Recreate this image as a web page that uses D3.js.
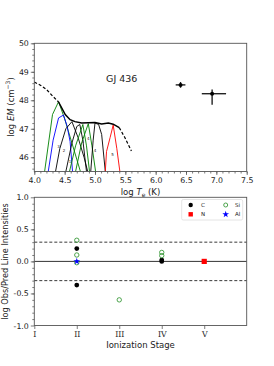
<!DOCTYPE html>
<html>
<head>
  <meta charset="utf-8">
  <script src="https://d3js.org/d3.v7.min.js"></script>
  <style>
    body { margin: 0; background: #fff; }
    svg text { font-family: "DejaVu Sans", sans-serif; fill: #222; }
  </style>
</head>
<body>
<div id="chart"></div>
<script>
// ---- top panel data: DEM curve and EM loci ----
var demCurve = [[4.00,48.64],[4.10,48.53],[4.20,48.38],[4.31,48.13],[4.40,47.94],[4.51,47.50],
  [4.59,47.32],[4.67,47.25],[4.78,47.20],[4.89,47.21],[5.00,47.22],[5.11,47.17],[5.22,47.20],
  [5.30,47.16],[5.40,47.04],[5.49,46.70],[5.60,46.22]];
var demSolidRange = [4.40, 5.40];

var lociColors = ['green', 'blue', 'black', 'black', 'green', 'green', 'black', 'red'];
var lociPoints = [
  [[4.17,45.5],[4.30,47.5],[4.40,47.95],[4.50,47.35],[4.62,46.5],[4.76,45.5]],
  [[4.23,45.5],[4.31,46.6],[4.40,47.38],[4.48,47.48],[4.54,47.1],[4.59,46.55],[4.63,45.5]],
  [[4.35,45.5],[4.42,46.3],[4.52,47.0],[4.62,47.25],[4.72,46.7],[4.82,46.0],[4.88,45.5]],
  [[4.52,45.5],[4.62,46.5],[4.70,47.08],[4.75,47.15],[4.80,46.6],[4.86,45.5]],
  [[4.58,45.5],[4.68,46.4],[4.80,47.15],[4.86,46.4],[4.91,45.5]],
  [[4.68,45.5],[4.78,46.5],[4.89,47.18],[4.95,46.4],[5.01,45.5]],
  [[4.93,45.5],[4.97,46.6],[5.00,47.2],[5.06,47.15],[5.11,46.8],[5.17,45.5]],
  [[5.17,45.5],[5.19,46.2],[5.25,46.7],[5.30,47.13],[5.36,46.3],[5.41,45.5]]
];
var lociLabels = [['3',4.40,46.33],['2',4.49,46.18],['1',4.59,45.8],['3',4.80,46.5],
  ['4',4.89,46.62],['4',5.00,46.2],['5',5.29,46.06]];

// coronal points: logT, logEM, xerr low/high, yerr low/high
var coronaT = [6.41, 6.93];
var coronaEM = [48.54, 48.23];
var coronaXErr = [[0.08,0.08],[0.17,0.23]];
var coronaYErr = [[0.1,0.1],[0.39,0.15]];

// ---- bottom panel data: obs/pred ratios by ionization stage ----
var stageLabels = ['I', 'II', 'III', 'IV', 'V'];
var ratioC = [[1,0.2],[1,-0.37],[3,0.02],[3,0.0]];
var ratioSi = [[1,0.33],[1,0.1],[1,-0.02],[2,-0.6],[3,0.14],[3,0.09]];
var ratioN = [[4,0.0]];
var ratioAl = [[1,0.0]];

var W = 274, H = 366;
var svg = d3.select('#chart').append('svg').attr('width', W).attr('height', H);

var left = 34.3, right = 246.7;

// ================= top panel =================
var x1 = d3.scaleLinear().domain([4.0, 7.5]).range([left, right]);
var y1 = d3.scaleLinear().domain([45.5, 50]).range([171.5, 43.3]);

var gTop = svg.append('g');
var xAxis1 = d3.axisBottom(x1).tickValues(d3.range(4.0, 7.51, 0.5)).tickFormat(d3.format('.1f')).tickSize(3.5).tickPadding(2);
var xMinor1 = d3.axisBottom(x1).tickValues(d3.range(4.0, 7.51, 0.1)).tickFormat('').tickSize(2);
var yAxis1 = d3.axisLeft(y1).tickValues([46,47,48,49,50]).tickFormat(d3.format('d')).tickSize(3.5).tickPadding(2);
var yMinor1 = d3.axisLeft(y1).tickValues(d3.range(45.6, 50.01, 0.2)).tickFormat('').tickSize(2);

gTop.append('g').attr('transform', 'translate(0,171.5)').call(xMinor1);
gTop.append('g').attr('transform', 'translate(0,171.5)').call(xAxis1);
gTop.append('g').attr('transform', 'translate(' + left + ',0)').call(yMinor1);
gTop.append('g').attr('transform', 'translate(' + left + ',0)').call(yAxis1);

var line1 = d3.line().x(function(d) { return x1(d[0]); }).y(function(d) { return y1(d[1]); });

lociPoints.forEach(function(pts, i) {
  gTop.append('path').attr('d', line1(pts)).attr('fill', 'none')
    .attr('stroke', lociColors[i]).attr('stroke-width', 0.9);
});

gTop.selectAll('.lbl').data(lociLabels).enter().append('text')
  .attr('x', function(d) { return x1(d[1]); })
  .attr('y', function(d) { return y1(d[2]); })
  .attr('font-size', 4).attr('text-anchor', 'middle').text(function(d) { return d[0]; });

var demSolid = demCurve.filter(function(d) { return d[0] >= demSolidRange[0] && d[0] <= demSolidRange[1]; });
var demLo = demCurve.filter(function(d) { return d[0] <= demSolidRange[0]; });
var demHi = demCurve.filter(function(d) { return d[0] >= demSolidRange[1]; });
gTop.append('path').attr('d', line1(demSolid)).attr('fill', 'none').attr('stroke', 'black').attr('stroke-width', 1.5);
[demLo, demHi].forEach(function(seg) {
  gTop.append('path').attr('d', line1(seg)).attr('fill', 'none').attr('stroke', 'black')
    .attr('stroke-width', 1.2).attr('stroke-dasharray', '3,2');
});

coronaT.forEach(function(t, i) {
  var em = coronaEM[i];
  gTop.append('line').attr('x1', x1(t - coronaXErr[i][0])).attr('x2', x1(t + coronaXErr[i][1]))
    .attr('y1', y1(em)).attr('y2', y1(em)).attr('stroke', '#111').attr('stroke-width', 1.3);
  gTop.append('line').attr('x1', x1(t)).attr('x2', x1(t))
    .attr('y1', y1(em - coronaYErr[i][0])).attr('y2', y1(em + coronaYErr[i][1]))
    .attr('stroke', '#111').attr('stroke-width', 1.3);
  gTop.append('circle').attr('cx', x1(t)).attr('cy', y1(em)).attr('r', 2).attr('fill', 'black');
});

gTop.append('text').attr('x', x1(5.44)).attr('y', y1(48.65)).attr('text-anchor', 'middle')
  .attr('font-size', 9.5).text('GJ 436');

gTop.append('rect').attr('x', left).attr('y', 43.3).attr('width', right - left).attr('height', 171.5 - 43.3)
  .attr('fill', 'none').attr('stroke', '#555').attr('stroke-width', 0.9);

var xl1 = gTop.append('text').attr('x', (left + right) / 2).attr('y', 195).attr('text-anchor', 'middle').attr('font-size', 8.5);
xl1.append('tspan').text('log ');
xl1.append('tspan').attr('font-style', 'italic').text('T');
xl1.append('tspan').attr('font-size', 6).attr('dy', 2).text('e');
xl1.append('tspan').attr('dy', -2).text(' (K)');

var yl1 = gTop.append('text').attr('transform', 'translate(13.5,107) rotate(-90)').attr('text-anchor', 'middle').attr('font-size', 8.5);
yl1.append('tspan').text('log ');
yl1.append('tspan').attr('font-style', 'italic').text('EM');
yl1.append('tspan').text(' (cm');
yl1.append('tspan').attr('font-size', 6).attr('dy', -3.5).text('\u22123');
yl1.append('tspan').attr('dy', 3.5).text(')');

// ================= bottom panel =================
var x2 = d3.scaleLinear().domain([0, 5]).range([left, right]);
var y2 = d3.scaleLinear().domain([-1, 1]).range([325.5, 197.3]);
var bot = svg.append('g');

var xAxis2 = d3.axisBottom(x2).tickValues([0,1,2,3,4]).tickFormat(function(d) { return stageLabels[d]; }).tickSize(3.5).tickPadding(2);
var yAxis2 = d3.axisLeft(y2).tickValues([-1,-0.5,0,0.5,1]).tickFormat(function(d) { return d.toFixed(1); }).tickSize(3.5).tickPadding(2);
var yMinor2 = d3.axisLeft(y2).tickValues(d3.range(-0.9, 1.0, 0.1)).tickFormat('').tickSize(2);

var gx2 = bot.append('g').attr('transform', 'translate(0,325.5)').call(xAxis2);
bot.append('g').attr('transform', 'translate(' + left + ',0)').call(yMinor2);
var gy2 = bot.append('g').attr('transform', 'translate(' + left + ',0)').call(yAxis2);

bot.append('line').attr('x1', left).attr('x2', right).attr('y1', y2(0)).attr('y2', y2(0)).attr('stroke', '#333').attr('stroke-width', 1);
[0.3, -0.3].forEach(function(v) {
  bot.append('line').attr('x1', left).attr('x2', right).attr('y1', y2(v)).attr('y2', y2(v))
    .attr('stroke', '#222').attr('stroke-width', 0.9).attr('stroke-dasharray', '3,2');
});

bot.selectAll('.c').data(ratioC).enter().append('circle')
  .attr('cx', function(d) { return x2(d[0]); }).attr('cy', function(d) { return y2(d[1]); })
  .attr('r', 2.4).attr('fill', 'black');
bot.selectAll('.si').data(ratioSi).enter().append('circle')
  .attr('cx', function(d) { return x2(d[0]); }).attr('cy', function(d) { return y2(d[1]); })
  .attr('r', 2.2).attr('fill', 'none').attr('stroke', '#3a9a3a').attr('stroke-width', 0.9);
bot.selectAll('.n').data(ratioN).enter().append('rect')
  .attr('x', function(d) { return x2(d[0]) - 2.6; }).attr('y', function(d) { return y2(d[1]) - 2.6; })
  .attr('width', 5.2).attr('height', 5.2).attr('fill', 'red');
var star = d3.symbol().type(d3.symbolStar).size(14);
bot.selectAll('.al').data(ratioAl).enter().append('path')
  .attr('transform', function(d) { return 'translate(' + x2(d[0]) + ',' + y2(d[1]) + ')'; })
  .attr('d', star).attr('fill', 'blue');

bot.append('rect').attr('x', left).attr('y', 197.3).attr('width', right - left).attr('height', 325.5 - 197.3)
  .attr('fill', 'none').attr('stroke', '#555').attr('stroke-width', 0.9);

// legend
var lg = bot.append('g');
lg.append('rect').attr('x', 181.7).attr('y', 199.5).attr('width', 61).attr('height', 20.5).attr('rx', 1.5)
  .attr('fill', 'white').attr('stroke', '#ddd').attr('stroke-width', 0.8);
lg.append('circle').attr('cx', 190.7).attr('cy', 205).attr('r', 2.2).attr('fill', 'black');
lg.append('text').attr('x', 201).attr('y', 207).attr('font-size', 5.5).text('C');
lg.append('circle').attr('cx', 225.7).attr('cy', 205).attr('r', 2.0).attr('fill', 'none').attr('stroke', '#3a9a3a').attr('stroke-width', 0.9);
lg.append('text').attr('x', 235).attr('y', 207).attr('font-size', 5.5).text('Si');
lg.append('rect').attr('x', 188.5).attr('y', 212.1).attr('width', 4.4).attr('height', 4.4).attr('fill', 'red');
lg.append('text').attr('x', 201).attr('y', 216.3).attr('font-size', 5.5).text('N');
lg.append('path').attr('transform', 'translate(225.7,214.3)').attr('d', star).attr('fill', 'blue');
lg.append('text').attr('x', 235).attr('y', 216.3).attr('font-size', 5.5).text('Al');

bot.append('text').attr('x', (left + right) / 2).attr('y', 348).attr('text-anchor', 'middle').attr('font-size', 8.5).text('Ionization Stage');
bot.append('text').attr('transform', 'translate(7.5,261.5) rotate(-90)').attr('text-anchor', 'middle').attr('font-size', 8.2).text('log Obs/Pred Line Intensities');

svg.selectAll('.domain').remove();
svg.selectAll('.tick line').attr('stroke', '#444').attr('stroke-width', 0.7);
svg.selectAll('.tick text').attr('fill', '#222').attr('font-size', 7.8).style('font-family', '"DejaVu Sans", sans-serif');
gx2.selectAll('.tick text').style('font-family', '"DejaVu Serif", serif');
</script>
</body>
</html>
